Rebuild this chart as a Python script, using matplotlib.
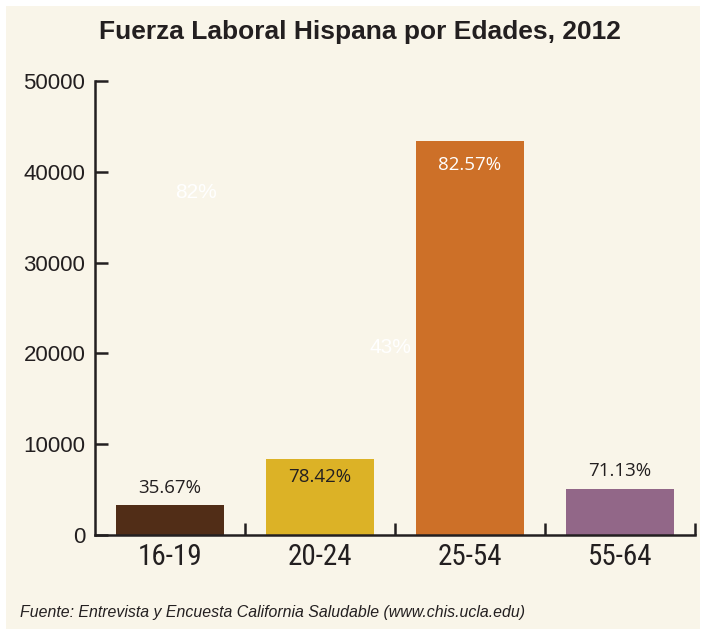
import matplotlib.pyplot as plt
from matplotlib.patches import Rectangle
from matplotlib import font_manager

# Data
ages = ["16-19", "20-24", "25-54", "55-64"]
workers = [3300, 8370, 43390, 5070]
rate_labels = ["35.67%", "78.42%", "82.57%", "71.13%"]
bar_colors = ["#512D17", "#DCB226", "#CD7028", "#926788"]

# stray labels left on the original artwork (white on cream)
stray_labels = ["82%", "43%"]
stray_x = [0.17, 1.47]
stray_y = [37700, 20700]

title = "Fuerza Laboral Hispana por Edades, 2012"
source = "Fuente: Entrevista y Encuesta California Saludable (www.chis.ucla.edu)"

BG = "#F9F5E9"
INK = "#231F20"

names = {f.name for f in font_manager.fontManager.ttflist}
narrow = None
for cand in ["Liberation Sans Narrow", "Roboto Condensed", "Open Sans Condensed", "DejaVu Sans Condensed"]:
    if cand in names:
        narrow = cand
        break
if narrow is None:
    narrow = "Liberation Sans"
    xt_size = 19
else:
    xt_size = 21

fig = plt.figure(figsize=(7.02, 6.31), dpi=100)
fig.patch.set_facecolor("white")
fig.patches.append(Rectangle((6 / 702, 2 / 631), 694 / 702, 623 / 631,
                             transform=fig.transFigure, facecolor=BG,
                             edgecolor="none", zorder=-10))

ax = fig.add_axes([95 / 702, 96 / 631, 600 / 702, 454 / 631])
ax.set_facecolor("none")

x = range(len(ages))
bars = ax.bar(x, workers, width=0.72, color=bar_colors, zorder=2)

ax.set_xlim(-0.5, 3.5)
ax.set_ylim(0, 50000)
ax.set_yticks([0, 10000, 20000, 30000, 40000, 50000])
ax.set_yticklabels(["0", "10000", "20000", "30000", "40000", "50000"],
                   family="Liberation Sans", fontsize=16, color=INK)
ax.set_xticks(list(x))
ax.set_xticklabels(ages, family=narrow, fontsize=xt_size, color=INK)
ax.set_xticks([0.5, 1.5, 2.5, 3.5], minor=True)

ax.tick_params(axis="y", direction="in", length=9, width=1.8, color=INK, pad=7)
ax.tick_params(axis="x", which="major", length=0, pad=6)
ax.tick_params(axis="x", which="minor", direction="in", length=9, width=1.8, color=INK)

for side in ["top", "right"]:
    ax.spines[side].set_visible(False)
for side in ["left", "bottom"]:
    ax.spines[side].set_linewidth(1.8)
    ax.spines[side].set_color(INK)

# percentage labels
offsets = [12, -13, -17, 13]
label_colors = [INK, INK, "white", INK]
for b, lab, off, c in zip(bars, rate_labels, offsets, label_colors):
    ax.annotate(lab, (b.get_x() + b.get_width() / 2, b.get_height()),
                xytext=(0, off), textcoords="offset points",
                ha="center", va="center", fontsize=13.5,
                family="Open Sans", color=c)

for lab, sx, sy in zip(stray_labels, stray_x, stray_y):
    ax.text(sx, sy, lab, ha="center", va="center", fontsize=15,
            family="Liberation Sans", color="white")

fig.text(360 / 702, 1 - 32 / 631, title, ha="center", va="center",
         fontsize=19, fontweight="bold", family="Liberation Sans", color=INK)
fig.text(20 / 702, 1 - 612 / 631, source, ha="left", va="center",
         fontsize=11.4, style="italic", family="Liberation Sans", color=INK)

fig.savefig("out.png", dpi=100, facecolor=fig.get_facecolor())
